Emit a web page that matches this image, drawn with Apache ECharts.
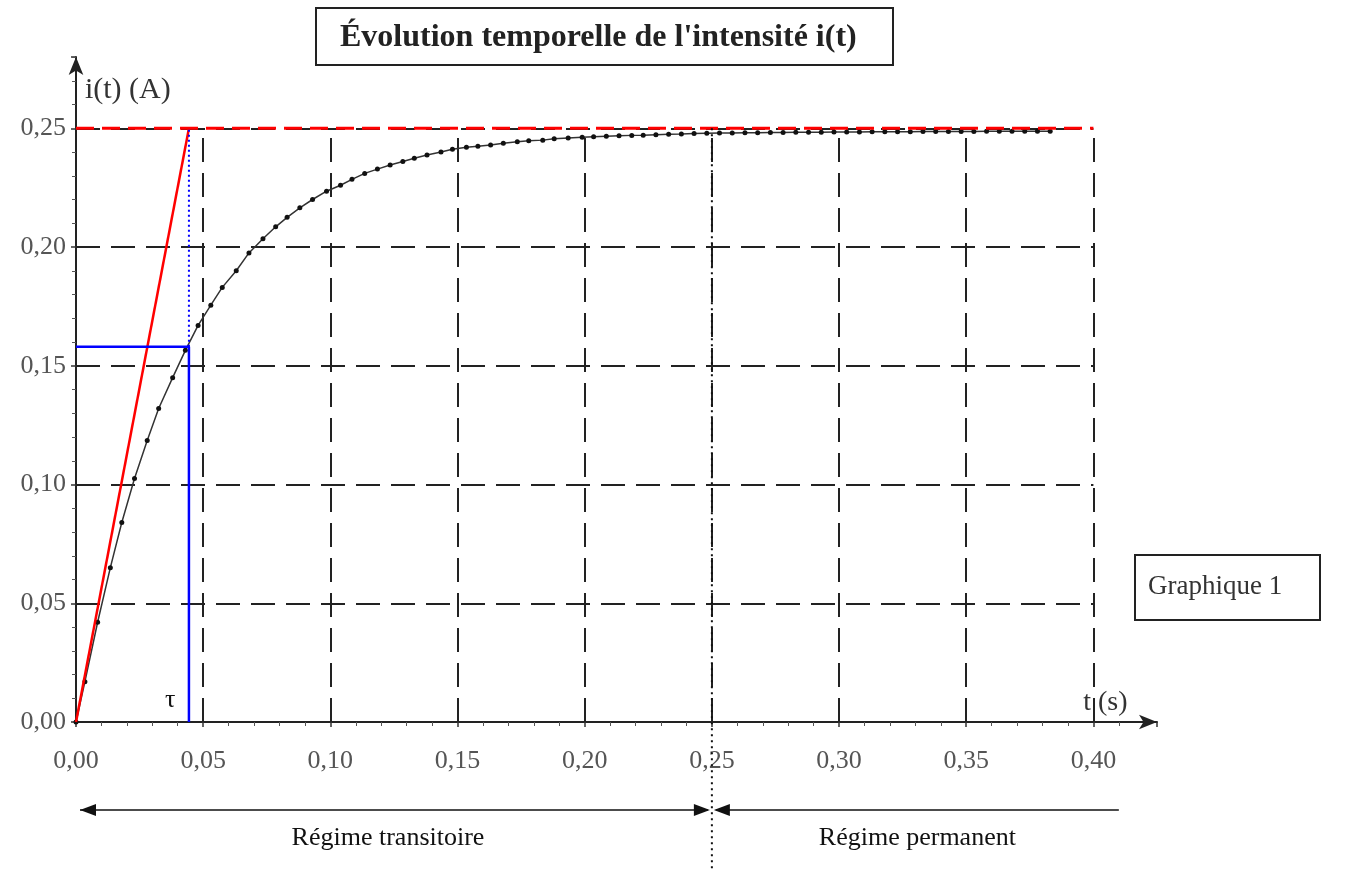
<!DOCTYPE html>
<html>
<head>
<meta charset="utf-8">
<script src="https://cdn.jsdelivr.net/npm/echarts@6/dist/echarts.min.js"></script>
<style>
    html, body { margin: 0; padding: 0; background: #fff; }
    #chart { width: 1350px; height: 870px; }
</style>
</head>
<body>
<div id="chart"></div>
<script>
    var times = [0, 0.0035, 0.0085, 0.0135, 0.018, 0.023, 0.028, 0.0325, 0.038, 0.043,
        0.048, 0.053, 0.0575, 0.063, 0.068, 0.0735, 0.0785, 0.083, 0.088, 0.093,
        0.0985, 0.104, 0.1085, 0.1135, 0.1185, 0.1235, 0.1285, 0.133, 0.138, 0.1435,
        0.148, 0.1535, 0.158, 0.163, 0.168, 0.1735, 0.178, 0.1835, 0.188, 0.1935,
        0.199, 0.2035, 0.2085, 0.2135, 0.2185, 0.223, 0.228, 0.233, 0.238, 0.243,
        0.248, 0.253, 0.258, 0.263, 0.268, 0.273, 0.278, 0.283, 0.288, 0.293,
        0.298, 0.303, 0.308, 0.313, 0.318, 0.323, 0.328, 0.333, 0.338, 0.343,
        0.348, 0.353, 0.358, 0.363, 0.368, 0.373, 0.378, 0.383];
    var current = [0, 0.017, 0.042, 0.065, 0.084, 0.1025, 0.1185, 0.132, 0.145, 0.1565,
        0.167, 0.1755, 0.183, 0.19, 0.1975, 0.2035, 0.2085, 0.2125, 0.2165, 0.22,
        0.2235, 0.226, 0.2285, 0.231, 0.2328, 0.2345, 0.236, 0.2374, 0.2387, 0.24,
        0.2412, 0.242, 0.2424, 0.2429, 0.2437, 0.2443, 0.2447, 0.245, 0.2456, 0.2459,
        0.2462, 0.2464, 0.2466, 0.2468, 0.247, 0.2471, 0.2473, 0.2475, 0.2476, 0.2478,
        0.2479, 0.248, 0.248, 0.2481, 0.2481, 0.2482, 0.2482, 0.2483, 0.2483, 0.2483,
        0.2484, 0.2484, 0.2484, 0.2485, 0.2485, 0.2485, 0.2485, 0.2486, 0.2486, 0.2486,
        0.2486, 0.2486, 0.2487, 0.2487, 0.2487, 0.2487, 0.2487, 0.2487];

    var xTicks = [0.05, 0.10, 0.15, 0.20, 0.25, 0.30, 0.35, 0.40];
    var yTicks = [0.05, 0.10, 0.15, 0.20, 0.25];
    var iMax = 0.25;        // asymptote
    var tau = 0.0444;       // time constant
    var iTau = 0.158;       // 63 % of iMax
    var tBoundary = 0.25;   // transitoire / permanent
    var tEnd = 0.41;

    var serif = '"Liberation Serif", "DejaVu Serif", serif';

    function comma(v) {
        return v.toFixed(2).replace('.', ',');
    }

    var curveData = times.map(function(t, k) { return [t, current[k]]; });

    var gridLines = [];
    xTicks.forEach(function(t) {
        gridLines.push([{coord: [t, 0]}, {coord: [t, iMax]}]);
    });
    yTicks.forEach(function(v) {
        gridLines.push([{coord: [0, v]}, {coord: [xTicks[xTicks.length - 1], v]}]);
    });

    var chart = echarts.init(document.getElementById('chart'), null, {renderer: 'canvas'});

    var option = {
        backgroundColor: '#fff',
        animation: false,
        grid: {left: 76, top: 57, right: 193, bottom: 148, containLabel: false},
        xAxis: {
            type: 'value',
            min: 0,
            max: 0.425,
            interval: 0.05,
            splitLine: {show: false},
            axisLine: {
                lineStyle: {color: '#222', width: 2},
                symbol: ['none', 'arrow'],
                symbolSize: [11, 18]
            },
            axisTick: {length: 5, lineStyle: {color: '#333', width: 1.5}},
            minorTick: {show: true, splitNumber: 5, length: 4, lineStyle: {color: '#555'}},
            axisLabel: {
                margin: 26,
                color: '#555',
                fontFamily: serif,
                fontSize: 26,
                formatter: function(v) {
                    return v <= 0.4001 && Math.abs(v / 0.05 - Math.round(v / 0.05)) < 1e-6 ? comma(v) : '';
                }
            }
        },
        yAxis: {
            type: 'value',
            min: 0,
            max: 0.28,
            interval: 0.05,
            splitLine: {show: false},
            axisLine: {
                lineStyle: {color: '#222', width: 2},
                symbol: ['none', 'arrow'],
                symbolSize: [11, 18]
            },
            axisTick: {length: 5, lineStyle: {color: '#333', width: 1.5}},
            minorTick: {show: true, splitNumber: 5, length: 4, lineStyle: {color: '#555'}},
            axisLabel: {
                margin: 10,
                color: '#555',
                fontFamily: serif,
                fontSize: 26,
                formatter: function(v) {
                    return v <= 0.2501 && Math.abs(v / 0.05 - Math.round(v / 0.05)) < 1e-6 ? comma(v) : '';
                }
            }
        },
        series: [
            {
                // dashed reading grid
                type: 'line',
                data: [],
                markLine: {
                    silent: true,
                    symbol: ['none', 'none'],
                    label: {show: false},
                    lineStyle: {color: '#222', width: 2, type: [24, 11]},
                    data: gridLines
                }
            },
            {
                name: 'i(t)',
                type: 'line',
                data: curveData,
                symbol: 'circle',
                symbolSize: 5,
                itemStyle: {color: '#111'},
                lineStyle: {color: '#333', width: 1.5},
                z: 5
            },
            {
                // asymptote
                type: 'line',
                data: [[0, iMax], [xTicks[xTicks.length - 1], iMax]],
                symbol: 'none',
                lineStyle: {color: '#ff0000', width: 3, type: [18, 8]},
                z: 6
            },
            {
                // tangent at origin
                type: 'line',
                data: [[0, 0], [tau, iMax]],
                symbol: 'none',
                lineStyle: {color: '#ff0000', width: 2.5},
                z: 6
            },
            {
                type: 'line',
                data: [[0, iTau], [tau, iTau], [tau, 0]],
                symbol: 'none',
                lineStyle: {color: '#0000ff', width: 2.5},
                z: 6
            },
            {
                type: 'line',
                data: [[tau, iTau], [tau, iMax]],
                symbol: 'none',
                lineStyle: {color: '#0000ff', width: 2, type: [2, 3]},
                z: 6
            }
        ]
    };
    chart.setOption(option);

    // annotations placed through the axes' own scale
    var p0 = chart.convertToPixel({gridIndex: 0}, [0, 0]);
    var pB = chart.convertToPixel({gridIndex: 0}, [tBoundary, iMax]);
    var pEnd = chart.convertToPixel({gridIndex: 0}, [tEnd, 0]);
    var pTauLbl = chart.convertToPixel({gridIndex: 0}, [0.037, 0.009]);
    var pYName = chart.convertToPixel({gridIndex: 0}, [0.0035, 0.266]);
    var pXName = chart.convertToPixel({gridIndex: 0}, [0.396, 0.008]);
    var arrowY = 810;
    var labelY = 838;

    chart.setOption({
        graphic: [
            {
                type: 'rect',
                shape: {x: 316, y: 8, width: 577, height: 57},
                style: {fill: '#fff', stroke: '#222', lineWidth: 2}
            },
            {
                type: 'text',
                x: 340, y: 38,
                style: {
                    text: "Évolution temporelle de l'intensité i(t)",
                    font: 'bold 32px ' + serif,
                    fill: '#222',
                    verticalAlign: 'middle'
                }
            },
            {
                type: 'rect',
                shape: {x: 1135, y: 555, width: 185, height: 65},
                style: {fill: '#fff', stroke: '#222', lineWidth: 2}
            },
            {
                type: 'text',
                x: 1148, y: 587,
                style: {text: 'Graphique 1', font: '27px ' + serif, fill: '#333', verticalAlign: 'middle'}
            },
            {
                type: 'text',
                x: pYName[0], y: pYName[1],
                style: {text: 'i(t) (A)', font: '30px ' + serif, fill: '#333', verticalAlign: 'middle'}
            },
            {
                type: 'text',
                x: pXName[0], y: pXName[1],
                style: {text: 't (s)', font: '28px ' + serif, fill: '#333', verticalAlign: 'middle'}
            },
            {
                type: 'text',
                x: pTauLbl[0], y: pTauLbl[1],
                style: {text: 'τ', font: '26px ' + serif, fill: '#111', align: 'center', verticalAlign: 'middle'}
            },
            {
                // boundary between the two regimes
                type: 'line',
                shape: {x1: pB[0], y1: pB[1], x2: pB[0], y2: 870},
                style: {stroke: '#111', lineWidth: 2, lineDash: [2, 4]},
                z: 10
            },
            {
                type: 'line',
                shape: {x1: p0[0] + 4, y1: arrowY, x2: pB[0] - 4, y2: arrowY},
                style: {stroke: '#111', lineWidth: 1.5}
            },
            {
                type: 'polygon',
                shape: {points: [[p0[0] + 4, arrowY], [p0[0] + 20, arrowY - 6], [p0[0] + 20, arrowY + 6]]},
                style: {fill: '#111'}
            },
            {
                type: 'polygon',
                shape: {points: [[pB[0] - 2, arrowY], [pB[0] - 18, arrowY - 6], [pB[0] - 18, arrowY + 6]]},
                style: {fill: '#111'}
            },
            {
                type: 'line',
                shape: {x1: pB[0] + 4, y1: arrowY, x2: pEnd[0], y2: arrowY},
                style: {stroke: '#111', lineWidth: 1.5}
            },
            {
                type: 'polygon',
                shape: {points: [[pB[0] + 2, arrowY], [pB[0] + 18, arrowY - 6], [pB[0] + 18, arrowY + 6]]},
                style: {fill: '#111'}
            },
            {
                type: 'text',
                x: 388, y: labelY,
                style: {text: 'Régime transitoire', font: '26px ' + serif, fill: '#111', align: 'center', verticalAlign: 'middle'}
            },
            {
                type: 'text',
                x: (pB[0] + pEnd[0]) / 2 + 2, y: labelY,
                style: {text: 'Régime permanent', font: '26px ' + serif, fill: '#111', align: 'center', verticalAlign: 'middle'}
            }
        ]
    });
</script>
</body>
</html>
